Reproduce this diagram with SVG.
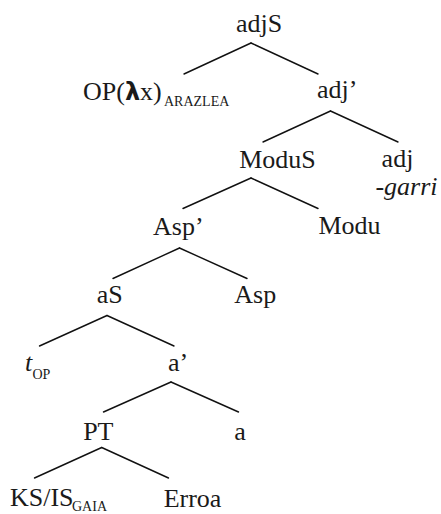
<svg xmlns="http://www.w3.org/2000/svg" width="441" height="514" viewBox="0 0 441 514">
<style>
text{font-family:"Liberation Serif","DejaVu Serif",serif;font-size:26px;fill:#1a1a1a}
.m{text-anchor:middle}
.sub{font-size:14px}
.it{font-style:italic}
.e line{stroke:#111;stroke-width:1.4;stroke-linecap:round}
</style>
<rect width="441" height="514" fill="#fff"/>
<g id="edges" class="e">
<line x1="251" y1="43" x2="184" y2="74"/>
<line x1="251" y1="43" x2="318" y2="74"/>
<line x1="330.5" y1="111" x2="263" y2="142"/>
<line x1="330.5" y1="111" x2="398" y2="142"/>
<line x1="251" y1="178" x2="183" y2="208.5"/>
<line x1="251" y1="178" x2="318" y2="208.5"/>
<line x1="179.5" y1="248" x2="113" y2="278.5"/>
<line x1="179.5" y1="248" x2="247" y2="278.5"/>
<line x1="107" y1="315.5" x2="39.5" y2="346"/>
<line x1="107" y1="315.5" x2="174" y2="346"/>
<line x1="171" y1="382" x2="103.5" y2="412"/>
<line x1="171" y1="382" x2="238.5" y2="412"/>
<line x1="101.7" y1="447.5" x2="34.5" y2="478"/>
<line x1="101.7" y1="447.5" x2="168.5" y2="478"/>
</g>
<g id="adjS"><text class="m" x="259" y="32">adjS</text></g>
<g id="OP"><text x="83" y="100">OP(<tspan style="font-family:'DejaVu Sans',sans-serif;font-weight:bold;font-size:24px">λ</tspan>x)</text><text class="sub" x="164" y="106">ARAZLEA</text></g>
<g id="adjbar"><text x="317" y="98">adj’</text></g>
<g id="ModuS"><text class="m" x="277.5" y="168">ModuS</text></g>
<g id="adj"><text class="m" x="397.5" y="167">adj</text><text class="m it" x="406.5" y="195">-garri</text></g>
<g id="Modu"><text class="m" x="349.5" y="234">Modu</text></g>
<g id="Aspbar"><text x="153" y="235">Asp’</text></g>
<g id="aS"><text class="m" x="109.7" y="303">aS</text></g>
<g id="Asp"><text class="m" x="255.3" y="303">Asp</text></g>
<g id="tOP"><text class="it" x="25" y="371">t</text><text class="sub" x="32.5" y="379">OP</text></g>
<g id="abar"><text x="168" y="371">a’</text></g>
<g id="PT"><text class="m" x="98.3" y="440">PT</text></g>
<g id="a"><text class="m" x="240" y="440">a</text></g>
<g id="KSIS"><text x="10" y="506">KS/IS</text><text class="sub" x="72" y="511">GAIA</text></g>
<g id="Erroa"><text class="m" x="192.5" y="507">Erroa</text></g>
</svg>
